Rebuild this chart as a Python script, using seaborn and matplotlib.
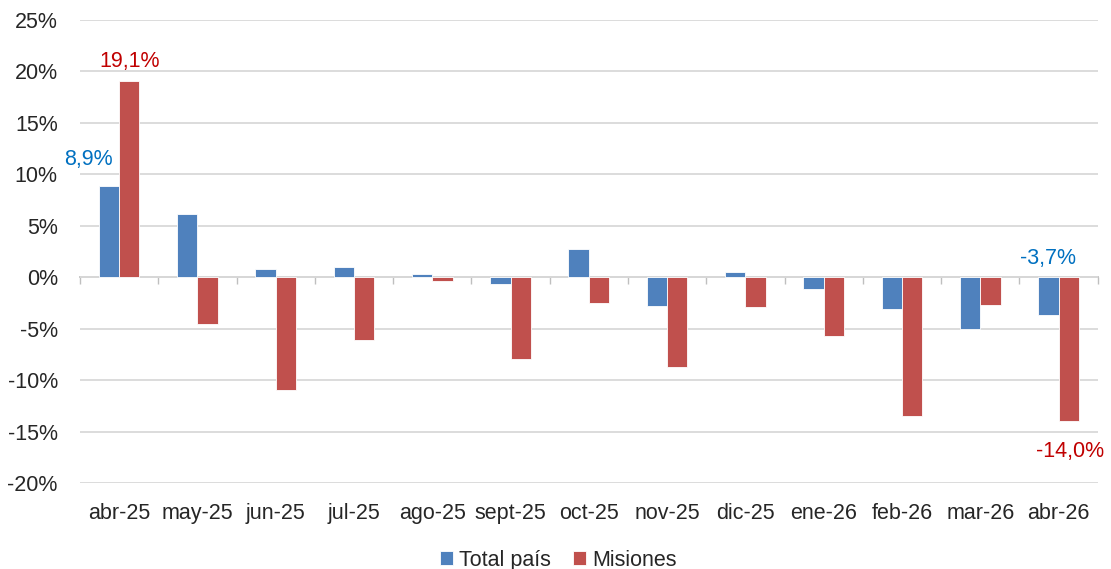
import numpy as np
import pandas as pd
import seaborn as sns
import matplotlib.pyplot as plt

meses = ['abr-25', 'may-25', 'jun-25', 'jul-25', 'ago-25', 'sept-25', 'oct-25',
         'nov-25', 'dic-25', 'ene-26', 'feb-26', 'mar-26', 'abr-26']
total_pais = [8.9, 6.1, 0.8, 1.0, 0.3, -0.7, 2.7, -2.8, 0.5, -1.1, -3.1, -5.0, -3.7]
misiones = [19.1, -4.5, -11.0, -6.1, -0.4, -7.9, -2.5, -8.7, -2.9, -5.7, -13.5, -2.7, -14.0]

df = pd.DataFrame({
    'Mes': meses * 2,
    'Valor': total_pais + misiones,
    'Serie': ['Total país'] * len(meses) + ['Misiones'] * len(meses),
})

sns.set_style('white')
plt.rcParams['font.family'] = ['Liberation Sans', 'DejaVu Sans']
fs = 15.5

fig = plt.figure(figsize=(11.11, 5.69), dpi=100)
ax = fig.add_axes([0.072, 0.151, 0.916, 0.814])

sns.barplot(data=df, x='Mes', y='Valor', hue='Serie', order=meses,
            palette=['#4F81BD', '#C0504D'], width=0.52, saturation=1,
            edgecolor='white', linewidth=0.6, ax=ax, zorder=3)

ax.set_ylim(-20, 25)
ax.set_xlim(-0.5, len(meses) - 0.5)
ax.set_yticks(range(-20, 26, 5))
ax.set_yticklabels([f'{v}%' for v in range(-20, 26, 5)], fontsize=fs)
ax.tick_params(axis='x', labelsize=fs, length=0, pad=14)
ax.tick_params(axis='y', length=0, pad=16)
ax.grid(axis='y', color='#D9D9D9', linewidth=1.3, zorder=0)
ax.set_xlabel('')
ax.set_ylabel('')
for s in ax.spines.values():
    s.set_visible(False)

# eje en cero con marcas entre categorias
sec = ax.secondary_xaxis(20 / 45)
sec.set_xticks(np.arange(-0.5, len(meses), 1))
sec.set_xticklabels([])
sec.tick_params(direction='out', length=5, color='#BFBFBF', width=1)
sec.spines['bottom'].set_color('#BFBFBF')
sec.spines['bottom'].set_linewidth(1.3)
for k in ['top', 'left', 'right']:
    sec.spines[k].set_visible(False)

w = 0.26
ax.annotate('8,9%', (0 - w / 2, total_pais[0]), xytext=(-15, 11),
            textcoords='offset points', ha='center', va='bottom',
            color='#0070C0', fontsize=fs)
ax.annotate('19,1%', (0 + w / 2, misiones[0]), xytext=(0, 6),
            textcoords='offset points', ha='center', va='bottom',
            color='#C00000', fontsize=fs)
ax.annotate('-3,7%', (12 - w / 2, 0), xytext=(0, 6),
            textcoords='offset points', ha='center', va='bottom',
            color='#0070C0', fontsize=fs)
ax.annotate('-14,0%', (12 + w / 2, misiones[12]), xytext=(1, -14),
            textcoords='offset points', ha='center', va='top',
            color='#C00000', fontsize=fs)

ax.legend(loc='lower center', bbox_to_anchor=(0.47, -0.222), ncol=2,
          frameon=False, fontsize=fs, handlelength=0.6, handleheight=0.6,
          handletextpad=0.3, columnspacing=1.0, title=None, borderpad=0.2)

fig.savefig('out.png', dpi=100)
